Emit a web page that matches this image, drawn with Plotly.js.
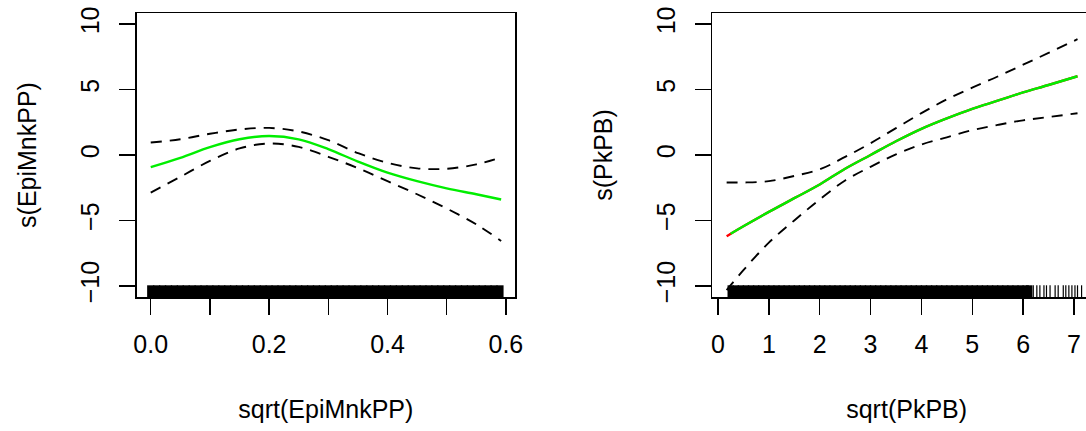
<!DOCTYPE html>
<html>
<head>
<meta charset="utf-8">
<script src="https://cdn.plot.ly/plotly-3.0.1.min.js"></script>
<style>
html,body{margin:0;padding:0;background:#fff;overflow:hidden;}
#wrap{width:1086px;height:431px;overflow:hidden;position:relative;}
#plot{width:1110px;height:431px;}
</style>
</head>
<body>
<div id="wrap"><div id="plot"></div></div>
<script>
// ---- Left panel: s(EpiMnkPP) ----
const xL = [0, 0.05, 0.1, 0.15, 0.2, 0.25, 0.3, 0.35, 0.4, 0.45, 0.5, 0.55, 0.592];
const fitL = [-0.93, -0.22, 0.6, 1.2, 1.45, 1.2, 0.45, -0.5, -1.35, -2.0, -2.55, -3.0, -3.4];
const upperL = [0.95, 1.2, 1.62, 1.95, 2.07, 1.8, 1.13, 0.15, -0.6, -1.02, -1.05, -0.72, -0.19];
const lowerL = [-2.87, -1.67, -0.45, 0.5, 0.88, 0.62, -0.14, -1.0, -2.0, -3.0, -4.09, -5.3, -6.57];
const rugL = [0.00,0.01,0.02,0.03,0.04,0.05,0.06,0.07,0.08,0.09,0.10,0.11,0.12,0.13,0.14,0.15,0.16,0.17,0.18,0.19,
  0.20,0.21,0.22,0.23,0.24,0.25,0.26,0.27,0.28,0.29,0.30,0.31,0.32,0.33,0.34,0.35,0.36,0.37,0.38,0.39,
  0.40,0.41,0.42,0.43,0.44,0.45,0.46,0.47,0.48,0.49,0.50,0.51,0.52,0.53,0.54,0.55,0.56,0.57,0.58,0.59];
const xTicksL = [0, 0.1, 0.2, 0.3, 0.4, 0.5, 0.6];
const xTickTextL = ['0.0', '', '0.2', '', '0.4', '', '0.6'];

// ---- Right panel: s(PkPB) ----
const xR = [0.17, 0.25, 0.5, 1.0, 1.5, 2.0, 2.5, 3.0, 3.5, 4.0, 4.5, 5.0, 5.5, 6.0, 6.5, 7.07];
const fitR = [-6.21, -6.02, -5.45, -4.35, -3.3, -2.25, -1.05, 0.0, 1.05, 2.0, 2.8, 3.53, 4.15, 4.78, 5.35, 6.02];
const upperR = [-2.1, -2.1, -2.1, -2.0, -1.6, -1.1, -0.15, 0.9, 2.05, 3.2, 4.25, 5.15, 6.0, 6.9, 7.8, 8.85];
const lowerR = [-10.32, -9.95, -8.8, -6.7, -5.0, -3.4, -1.95, -0.9, 0.05, 0.8, 1.35, 1.9, 2.3, 2.65, 2.9, 3.19];
const rugRDense = [0.25,0.35,0.45,0.55,0.65,0.75,0.85,0.95,1.05,1.15,1.25,1.35,1.45,1.55,1.65,1.75,1.85,1.95,
  2.05,2.15,2.25,2.35,2.45,2.55,2.65,2.75,2.85,2.95,3.05,3.15,3.25,3.35,3.45,3.55,3.65,3.75,3.85,3.95,
  4.05,4.15,4.25,4.35,4.45,4.55,4.65,4.75,4.85,4.95,5.05,5.15,5.25,5.35,5.45,5.55,5.65,5.75,5.85,5.95,6.05,6.12];
const rugRSparse = [6.2, 6.27, 6.33, 6.41, 6.46, 6.53, 6.63, 6.69, 6.79, 6.84, 6.9, 6.96, 7.02, 7.07, 7.15];
const xTicksR = [0, 1, 2, 3, 4, 5, 6, 7];
const xTickTextR = ['0', '1', '2', '3', '4', '5', '6', '7'];
const greenStartR = 1; // green overlay begins at second grid point; red shows beneath

// ---- Shared y axis ----
const yTicks = [-10, -5, 0, 5, 10];
const yTickText = ['\u221210', '\u22125', '0', '5', '10'];

// ---- layout geometry (pixels on a 1110 x 431 paper) ----
const W = 1110, H = 431;
const L0 = 136.7, L1 = 515, R0 = 712.3, R1 = 1101, TOP = 13.3, BOT = 296.7;
const Y_RANGE = [-10.83, 10.83];
const XL_RANGE = [-0.0237, 0.6154];
const XR_RANGE = [-0.112, 7.532];
const RUG_PX = 9.5;
const pxPerUnitY = (BOT - TOP) / (Y_RANGE[1] - Y_RANGE[0]);
const rugY = Y_RANGE[0] + (RUG_PX / 2) / pxPerUnitY;

const FONT = 'Liberation Sans, Arial, Helvetica, sans-serif';
const dash = '11px,8px';

function rugTrace(xs, xa, ya, width) {
  return {x: xs, y: xs.map(() => rugY), xaxis: xa, yaxis: ya, type: 'scatter', mode: 'markers',
    marker: {symbol: 'line-ns', size: RUG_PX, color: 'black', line: {color: 'black', width: width}},
    hoverinfo: 'skip', showlegend: false, cliponaxis: false};
}
function lineTrace(xs, ys, xa, ya, color, width, d) {
  return {x: xs, y: ys, xaxis: xa, yaxis: ya, type: 'scatter', mode: 'lines',
    line: {color: color, width: width, dash: d || 'solid', shape: 'spline', smoothing: 1},
    showlegend: false, hoverinfo: 'skip'};
}

const traces = [
  rugTrace(rugL, 'x', 'y', 7.2),
  lineTrace(xL, upperL, 'x', 'y', 'black', 1.9, dash),
  lineTrace(xL, lowerL, 'x', 'y', 'black', 1.9, dash),
  lineTrace(xL, fitL, 'x', 'y', '#00EE00', 2.4),
  rugTrace(rugRDense, 'x2', 'y2', 6.4),
  rugTrace(rugRSparse, 'x2', 'y2', 1.2),
  lineTrace(xR, upperR, 'x2', 'y2', 'black', 1.9, dash),
  lineTrace(xR, lowerR, 'x2', 'y2', 'black', 1.9, dash),
  lineTrace(xR, fitR, 'x2', 'y2', '#FF0000', 2.4),
  lineTrace(xR.slice(greenStartR), fitR.slice(greenStartR), 'x2', 'y2', '#00EE00', 2.4)
];

const tickFont = {family: FONT, size: 25, color: 'black'};
function xAxis(range, dom, tv, tt, title) {
  return {domain: dom, range: range, tickmode: 'array', tickvals: tv, ticktext: tt,
    ticks: 'outside', ticklen: 16, tickwidth: 1.5, tickcolor: 'black',
    showline: true, mirror: true, linecolor: 'black', linewidth: 1.8,
    showgrid: false, zeroline: false, tickfont: tickFont, ticklabelstandoff: 8,
    title: {text: title, font: tickFont, standoff: 44}, automargin: false, fixedrange: true};
}
function yAxis(anchor, title) {
  return {domain: [(H - BOT) / H, (H - TOP) / H], range: Y_RANGE, anchor: anchor,
    tickmode: 'array', tickvals: yTicks, ticktext: yTickText, tickangle: -90,
    ticks: 'outside', ticklen: 16, tickwidth: 1.5, tickcolor: 'black',
    showline: true, mirror: true, linecolor: 'black', linewidth: 1.8,
    showgrid: false, zeroline: false, tickfont: tickFont, ticklabelstandoff: 10,
    title: {text: title, font: tickFont, standoff: 32}, automargin: false, fixedrange: true};
}

const layout = {
  width: W, height: H,
  margin: {l: 0, r: 0, t: 0, b: 0, pad: 0},
  paper_bgcolor: 'white', plot_bgcolor: 'white',
  showlegend: false,
  xaxis: Object.assign(xAxis(XL_RANGE, [L0 / W, L1 / W], xTicksL, xTickTextL, 'sqrt(EpiMnkPP)'), {anchor: 'y'}),
  yaxis: yAxis('x', 's(EpiMnkPP)'),
  xaxis2: Object.assign(xAxis(XR_RANGE, [R0 / W, R1 / W], xTicksR, xTickTextR, 'sqrt(PkPB)'), {anchor: 'y2'}),
  yaxis2: yAxis('x2', 's(PkPB)')
};

Plotly.newPlot('plot', traces, layout, {displayModeBar: false, staticPlot: true});
</script>
</body>
</html>
